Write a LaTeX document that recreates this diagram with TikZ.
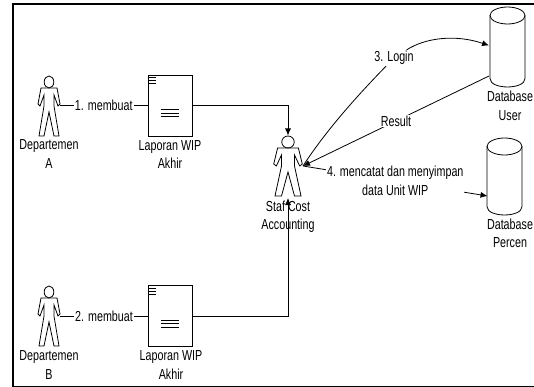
\documentclass[tikz,border=0pt]{standalone}
\usepackage{fontspec}
\setmainfont[FakeStretch=0.74]{Liberation Sans}
\usetikzlibrary{arrows.meta}
\tikzset{
    every node/.style={font=\fontsize{14.5}{18.5}\selectfont,align=center},
    lbl/.style={fill=white,inner sep=1pt},
    wipdoc/.style={draw,minimum width=44pt,minimum height=61pt,inner sep=0pt},
    arr/.style={-{Latex[length=7pt,width=6pt]}},
    pics/actor/.style={code={
        \draw (0,0) circle[x radius=#1*4.8,y radius=6];
        \draw (-#1*8,6) -- (#1*8,6) -- (#1*11,22) -- (#1*9,24) -- (#1*5,13) -- (#1*5,24) -- (#1*10,54)
            -- (#1*5,54) -- (0,30) -- (-#1*5,54) -- (-#1*10,54) -- (-#1*5,24) -- (-#1*5,13)
            -- (-#1*9,24) -- (-#1*11,22) -- cycle;
    }},
    pics/dbcyl/.style={code={
        \draw (0,0) circle[x radius=17.5,y radius=8.5];
        \draw (-17.5,0) -- (-17.5,#1) .. controls (-17.5,#1+11.3) and (17.5,#1+11.3) .. (17.5,#1) -- (17.5,0);
    }}
}
\begin{document}
\begin{tikzpicture}[x=1pt,y=-1pt,line width=0.8pt]
    \useasboundingbox (0,0) rectangle (534,387);
    \draw[line width=1.4pt] (13,4) rectangle (540,386.5);

    \pic at (49,82) {actor=1};
    \pic at (49,292) {actor=1};
    \pic at (288,142) {actor=1.3};

    \node (depA) at (49,154) {Departemen\\A};
    \node (depB) at (49,365) {Departemen\\B};
    \node (staf) at (288,217) {Staf Cost\\Accounting};

    \coordinate (actA) at (60,105.5);
    \coordinate (actB) at (60,316);
    \coordinate (stafin) at (303,166);

    \node[wipdoc] (docA) at (170,105.5) {};
    \node[wipdoc] (docB) at (170.5,316) {};
    \node (lapA) at (170,154.5) {Laporan WIP\\Akhir};
    \node (lapB) at (171,365) {Laporan WIP\\Akhir};

    \foreach \d in {docA,docB} {
        \foreach \y in {3,6,9}
        \draw[shift={(\d.north west)}] (1,\y) -- (8,\y);
        \foreach \y in {35,38.5,42}
        \draw[shift={(\d.north west)}] (13,\y) -- (31,\y);
    }

    \pic at (507.5,15.5) {dbcyl=63};
    \pic at (504.5,146.5) {dbcyl=60};
    \node (dbUl) at (510,106) {Database\\User};
    \node (dbPl) at (510,233.5) {Database\\Percen};

    \draw (actA) -- node[lbl]{1. membuat} (docA);
    \draw (actB) -- node[lbl]{2. membuat} (docB);

    \coordinate (elbA) at (288,105.5);
    \coordinate (headS) at (288,135.5);
    \coordinate (elbB) at (288,316);
    \coordinate (feetS) at (288,198);
    \draw[arr] (docA) -- (elbA) -- (headS);
    \draw[arr] (docB) -- (elbB) -- (feetS);

    \coordinate (loginU) at (489,45.5);
    \coordinate (resultU) at (489,76);
    \coordinate (wipP) at (487.5,196);
    \node[lbl] (login) at (394,58) {3. Login};

    \draw (stafin) .. controls (325,132) and (355,98) .. (login);
    \draw[arr] (login) .. controls (425,38) and (455,34) .. (loginU);
    \draw[arr] (resultU) -- node[lbl]{Result} (stafin);
    \draw[arr] (stafin) -- node[lbl,midway]{4. mencatat dan menyimpan\\data Unit WIP} (wipP);
\end{tikzpicture}
\end{document}
